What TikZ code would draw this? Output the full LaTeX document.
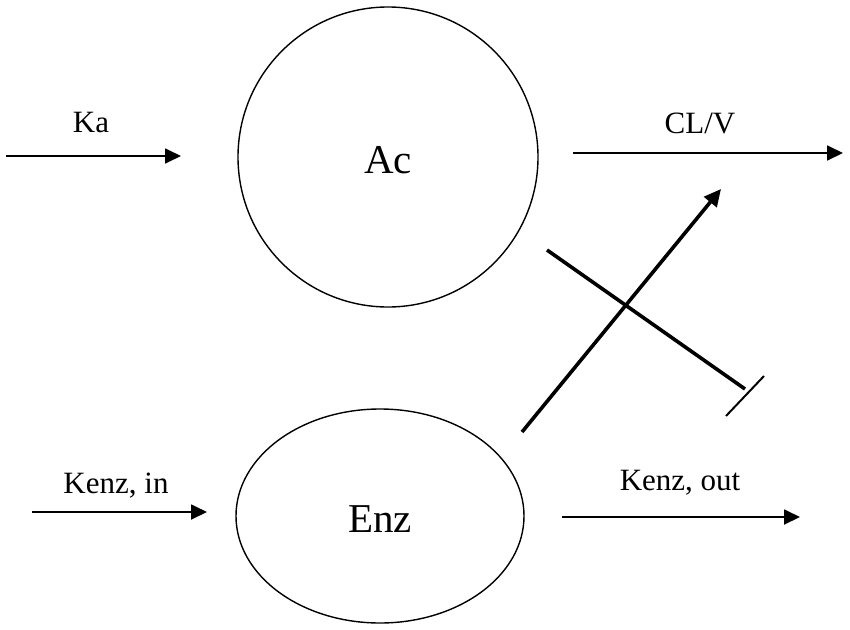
\documentclass[tikz,border=0pt]{standalone}
\usepackage{fontspec}
\setmainfont{Liberation Serif}
\usetikzlibrary{arrows.meta}
\usetikzlibrary{shapes.geometric}
\usetikzlibrary{calc,positioning}

\begin{document}
\begin{tikzpicture}[>={Triangle[length=16pt,width=15pt]}, x=1pt, y=-1pt,
    fluxo/.style={->, line width=1.8pt},
    efeito/.style={line width=3.6pt},
    rotulo/.style={font=\fontsize{31}{36}\selectfont, anchor=base, inner sep=0pt},
    compart/.style={draw, line width=1.4pt, inner sep=0pt, text height=33pt, font=\fontsize{41}{48}\selectfont}]

    \useasboundingbox (0,0) rectangle (850,629);

    % compartimentos
    \node[compart, circle, minimum size=300pt] (ac) at (388,157) {Ac};
    \node[compart, ellipse, minimum width=288pt, minimum height=214pt] (enz) at (380,516) {Enz};

    % absorção e eliminação
    \coordinate (ka-ini) at (6,156);
    \coordinate (ka-fim) at (181,156);
    \draw[fluxo] (ka-ini) -- (ka-fim);
    \node[rotulo] (ka) at (91,132) {Ka};
    \coordinate (cl-ini) at (573,153);
    \coordinate (cl-fim) at (843,153);
    \draw[fluxo] (cl-ini) -- (cl-fim);
    \node[rotulo] (cl) at (700,133) {CL/V};

    % síntese e degradação da enzima
    \coordinate (kin-ini) at (32,512);
    \coordinate (kin-fim) at (207,512);
    \draw[fluxo] (kin-ini) -- (kin-fim);
    \node[rotulo] (kin) at (116,493) {Kenz, in};
    \coordinate (kout-ini) at (562,517);
    \coordinate (kout-fim) at (800,517);
    \draw[fluxo] (kout-ini) -- (kout-fim);
    \node[rotulo] (kout) at (680,490) {Kenz, out};

    % efeito da enzima sobre a eliminação
    \coordinate (ind-ini) at (522,432);
    \coordinate (ind-fim) at (721,189);
    \draw[efeito, -{Triangle[length=17pt,width=16pt]}] (ind-ini) -- (ind-fim);
    \coordinate (inib-ini) at (547,250);
    \coordinate (inib-fim) at (745,389);
    \draw[efeito] (inib-ini) -- (inib-fim);
    \draw[line width=2pt] (726,416) -- (764,376);

\end{tikzpicture}
\end{document}
